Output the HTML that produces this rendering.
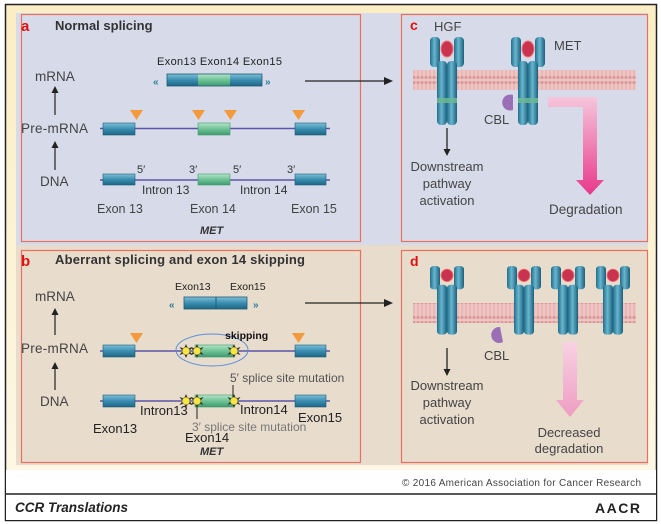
<!DOCTYPE html>
<html><head><meta charset="utf-8"><style>
html,body{margin:0;padding:0;background:#fff;}
svg{display:block;font-family:"Liberation Sans",sans-serif;}
</style></head><body>
<svg width="661" height="524" viewBox="0 0 661 524" xmlns="http://www.w3.org/2000/svg">
<defs>
<linearGradient id="yel" x1="0" y1="0" x2="0" y2="1"><stop offset="0" stop-color="#fbeec4"/><stop offset="1" stop-color="#fdf8e8"/></linearGradient>
<linearGradient id="bx" x1="0" y1="0" x2="0" y2="1"><stop offset="0" stop-color="#7fc0d6"/><stop offset="0.5" stop-color="#3a8db0"/><stop offset="1" stop-color="#1f6584"/></linearGradient>
<linearGradient id="gx" x1="0" y1="0" x2="0" y2="1"><stop offset="0" stop-color="#b5e4c8"/><stop offset="0.5" stop-color="#6fc296"/><stop offset="1" stop-color="#3e9a6e"/></linearGradient>
<linearGradient id="cyl" x1="0" y1="0" x2="1" y2="0"><stop offset="0" stop-color="#1f6e8c"/><stop offset="0.45" stop-color="#6ab6cf"/><stop offset="1" stop-color="#1b5f7c"/></linearGradient>
<linearGradient id="pk" x1="0" y1="0" x2="0" y2="1"><stop offset="0" stop-color="#f6c6dc"/><stop offset="1" stop-color="#e8388a"/></linearGradient>
<linearGradient id="pk2" x1="0" y1="0" x2="0" y2="1"><stop offset="0" stop-color="#f8d3e2"/><stop offset="1" stop-color="#ee9cc2"/></linearGradient>
<pattern id="mem" width="4" height="20" patternUnits="userSpaceOnUse">
<rect width="4" height="20" fill="#efc6c4"/>
<circle cx="2" cy="2.5" r="1.6" fill="#d99a9a"/><circle cx="2" cy="17.5" r="1.6" fill="#d99a9a"/>
<line x1="2" y1="4" x2="2" y2="16" stroke="#dca3a3" stroke-width="0.8"/>
</pattern>
<g id="rec">
<rect x="-17" y="0" width="10" height="30" rx="4" fill="url(#cyl)"/>
<rect x="7" y="0" width="10" height="30" rx="4" fill="url(#cyl)"/>
<ellipse cx="0" cy="12" rx="6" ry="8" fill="#c9334f" stroke="#e77" stroke-width="1"/>
<rect x="-10" y="24" width="10" height="64" rx="4" fill="url(#cyl)"/>
<rect x="0" y="24" width="10" height="64" rx="4" fill="url(#cyl)"/>
</g>
<g id="star"><polygon points="0,-7 2,-2.5 6.5,-4 3.5,0 6.5,4 2,2.5 0,7 -2,2.5 -6.5,4 -3.5,0 -6.5,-4 -2,-2.5" fill="#333"/><circle r="3.8" fill="#f4e64a" stroke="#8a7a10" stroke-width="0.6"/></g>
</defs>
<rect x="5.5" y="4.5" width="651" height="516" fill="url(#yel)" stroke="#222" stroke-width="1.5"/>
<rect x="16" y="13" width="632" height="232" fill="#d7dbe9"/>
<rect x="16" y="245" width="632" height="220" fill="#e8dccd"/>
<rect x="6" y="470" width="650" height="50" fill="#fff"/>
<line x1="5" y1="494" x2="657" y2="494" stroke="#222" stroke-width="1.5"/>
<rect x="21.5" y="14.5" width="339" height="227" fill="none" stroke="#e9705c" stroke-width="1.2"/>
<rect x="401.5" y="14.5" width="246" height="227" fill="none" stroke="#e9705c" stroke-width="1.2"/>
<rect x="21.5" y="250.5" width="339" height="212" fill="none" stroke="#e9705c" stroke-width="1.2"/>
<rect x="401.5" y="250.5" width="246" height="212" fill="none" stroke="#e9705c" stroke-width="1.2"/>

<!-- panel a -->
<text x="21" y="31" font-size="15" font-weight="bold" fill="#e01010">a</text>
<text x="55" y="30" font-size="13" font-weight="bold" fill="#333">Normal splicing</text>
<text x="157" y="65" font-size="11" fill="#222" textLength="125">Exon13 Exon14 Exon15</text>
<rect x="167" y="74" width="31" height="12" fill="url(#bx)"/><rect x="198" y="74" width="32" height="12" fill="url(#gx)"/><rect x="230" y="74" width="32" height="12" fill="url(#bx)"/>
<rect x="167" y="74" width="95" height="12" fill="none" stroke="#1d5d78" stroke-width="0.8"/>
<text x="153" y="85" font-size="10" font-weight="bold" fill="#2b7d9c">«</text>
<text x="265" y="85" font-size="10" font-weight="bold" fill="#2b7d9c">»</text>
<line x1="305" y1="81" x2="385" y2="81" stroke="#222" stroke-width="1.3"/><polygon points="393,81 384,77 384,85" fill="#222"/>
<g font-size="13.5" fill="#444">
<text x="35" y="81">mRNA</text><text x="21" y="133" textLength="67">Pre-mRNA</text><text x="40" y="186">DNA</text>
</g>
<g stroke="#222" stroke-width="1.2"><line x1="55" y1="115" x2="55" y2="90"/><line x1="55" y1="170" x2="55" y2="145"/><line x1="55" y1="335" x2="55" y2="312"/><line x1="55" y1="390" x2="55" y2="366"/></g>
<g fill="#222"><polygon points="55,86 51.5,93 58.5,93"/><polygon points="55,141 51.5,148 58.5,148"/><polygon points="55,308 51.5,315 58.5,315"/><polygon points="55,362 51.5,369 58.5,369"/></g>
<line x1="100" y1="128.5" x2="330" y2="128.5" stroke="#5b55a8" stroke-width="1.5"/>
<rect x="103" y="123" width="32" height="12" fill="url(#bx)" stroke="#1d5d78" stroke-width="0.6"/>
<rect x="198" y="123" width="32" height="12" fill="url(#gx)" stroke="#3e9a6e" stroke-width="0.6"/>
<rect x="295" y="123" width="31" height="12" fill="url(#bx)" stroke="#1d5d78" stroke-width="0.6"/>
<g fill="#f49a3c"><polygon points="130,110 143,110 136.5,120"/><polygon points="192,110 205,110 198.5,120"/><polygon points="224,110 237,110 230.5,120"/><polygon points="292,110 305,110 298.5,120"/></g>
<line x1="100" y1="180" x2="330" y2="180" stroke="#5b55a8" stroke-width="1.5"/>
<rect x="103" y="174" width="32" height="11" fill="url(#bx)" stroke="#1d5d78" stroke-width="0.6"/>
<rect x="198" y="174" width="32" height="11" fill="url(#gx)" stroke="#3e9a6e" stroke-width="0.6"/>
<rect x="295" y="174" width="31" height="11" fill="url(#bx)" stroke="#1d5d78" stroke-width="0.6"/>
<g font-size="11" fill="#333"><text x="137" y="173">5′</text><text x="189" y="173">3′</text><text x="233" y="173">5′</text><text x="287" y="173">3′</text></g>
<g font-size="12" fill="#333"><text x="142" y="194">Intron 13</text><text x="240" y="194">Intron 14</text></g>
<g font-size="12.5" fill="#444"><text x="97" y="213">Exon 13</text><text x="190" y="213">Exon 14</text><text x="291" y="213">Exon 15</text></g>
<text x="200" y="234" font-size="11" font-weight="bold" font-style="italic" fill="#333">MET</text>

<!-- panel c -->
<text x="410" y="30" font-size="14" font-weight="bold" fill="#e01010">c</text>
<text x="434" y="31" font-size="13" fill="#444">HGF</text>
<text x="554" y="50" font-size="13" fill="#444">MET</text>
<rect x="413" y="70" width="223" height="20" fill="url(#mem)"/>
<use href="#rec" transform="translate(447,37)"/>
<use href="#rec" transform="translate(528,37)"/>
<rect x="437" y="98" width="20" height="5" fill="#6db892" opacity="0.85"/>
<rect x="518" y="98" width="20" height="5" fill="#6db892" opacity="0.85"/>
<path d="M513,95 A8,8 0 1,0 513,110 Z" fill="#9b6fb5"/>
<text x="484" y="124" font-size="13" fill="#444">CBL</text>
<line x1="447" y1="128" x2="447" y2="150" stroke="#222" stroke-width="1.3"/><polygon points="447,156 443.5,149 450.5,149" fill="#222"/>
<g font-size="13" fill="#444" text-anchor="middle"><text x="447" y="171">Downstream</text><text x="447" y="188">pathway</text><text x="447" y="205">activation</text></g>
<path d="M548,97 L597,97 L597,180 L604,180 L590,195 L576,180 L583,180 L583,107 L548,107 Z" fill="url(#pk)"/>
<text x="549" y="214" font-size="13.5" fill="#444">Degradation</text>

<!-- panel b -->
<text x="21" y="266" font-size="15" font-weight="bold" fill="#e01010">b</text>
<text x="55" y="264" font-size="13" font-weight="bold" fill="#333" textLength="250">Aberrant splicing and exon 14 skipping</text>
<text x="175" y="290" font-size="10.5" fill="#222">Exon13</text><text x="230" y="290" font-size="10.5" fill="#222">Exon15</text>
<rect x="184" y="297" width="63" height="12" fill="url(#bx)" stroke="#1d5d78" stroke-width="0.8"/><line x1="216" y1="297" x2="216" y2="309" stroke="#1d5d78"/>
<text x="169" y="308" font-size="10" font-weight="bold" fill="#2b7d9c">«</text>
<text x="253" y="308" font-size="10" font-weight="bold" fill="#2b7d9c">»</text>
<line x1="305" y1="303" x2="385" y2="303" stroke="#222" stroke-width="1.3"/><polygon points="393,303 384,299 384,307" fill="#222"/>
<g font-size="13.5" fill="#444"><text x="35" y="301">mRNA</text><text x="21" y="353" textLength="67">Pre-mRNA</text><text x="40" y="406">DNA</text></g>
<line x1="100" y1="351" x2="330" y2="351" stroke="#5b55a8" stroke-width="1.5"/>
<rect x="103" y="345" width="32" height="12" fill="url(#bx)" stroke="#1d5d78" stroke-width="0.6"/>
<rect x="195" y="345" width="38" height="12" fill="url(#gx)" stroke="#3e9a6e" stroke-width="0.6"/>
<rect x="295" y="345" width="31" height="12" fill="url(#bx)" stroke="#1d5d78" stroke-width="0.6"/>
<ellipse cx="212" cy="350" rx="36" ry="16" fill="none" stroke="#5b8fd8" stroke-width="1"/>
<use href="#star" x="186" y="351"/><use href="#star" x="197" y="351"/><use href="#star" x="234" y="351"/>
<text x="225" y="339" font-size="10.5" font-weight="bold" fill="#111">skipping</text>
<g fill="#f49a3c"><polygon points="130,333 143,333 136.5,343"/><polygon points="292,333 305,333 298.5,343"/></g>
<line x1="100" y1="401" x2="330" y2="401" stroke="#5b55a8" stroke-width="1.5"/>
<rect x="103" y="395" width="32" height="12" fill="url(#bx)" stroke="#1d5d78" stroke-width="0.6"/>
<rect x="195" y="395" width="38" height="12" fill="url(#gx)" stroke="#3e9a6e" stroke-width="0.6"/>
<rect x="295" y="395" width="31" height="12" fill="url(#bx)" stroke="#1d5d78" stroke-width="0.6"/>
<line x1="233" y1="385" x2="233" y2="400" stroke="#222"/><line x1="197" y1="403" x2="197" y2="419" stroke="#222"/>
<use href="#star" x="186" y="401"/><use href="#star" x="197" y="401"/><use href="#star" x="234" y="401"/>
<text x="230" y="382" font-size="12" fill="#555">5′ splice site mutation</text>
<text x="192" y="431" font-size="12" fill="#777">3′ splice site mutation</text>
<g font-size="13" fill="#222"><text x="140" y="415">Intron13</text><text x="240" y="414">Intron14</text><text x="298" y="422">Exon15</text><text x="93" y="433">Exon13</text><text x="185" y="442">Exon14</text></g>
<text x="200" y="455" font-size="11" font-weight="bold" font-style="italic" fill="#333">MET</text>

<!-- panel d -->
<text x="410" y="266" font-size="14" font-weight="bold" fill="#e01010">d</text>
<rect x="413" y="303" width="223" height="20" fill="url(#mem)"/>
<use href="#rec" transform="translate(447,266) scale(1,0.78)"/>
<use href="#rec" transform="translate(524,266) scale(1,0.78)"/>
<use href="#rec" transform="translate(568,266) scale(1,0.78)"/>
<use href="#rec" transform="translate(613,266) scale(1,0.78)"/>
<path d="M500,327 A8,8 0 1,0 503,342 Z" fill="#9b6fb5"/>
<text x="484" y="360" font-size="13" fill="#444">CBL</text>
<line x1="447" y1="348" x2="447" y2="370" stroke="#222" stroke-width="1.3"/><polygon points="447,376 443.5,369 450.5,369" fill="#222"/>
<g font-size="13" fill="#444" text-anchor="middle"><text x="447" y="390">Downstream</text><text x="447" y="407">pathway</text><text x="447" y="424">activation</text></g>
<path d="M563,342 L577,342 L577,400 L584,400 L570,417 L556,400 L563,400 Z" fill="url(#pk2)"/>
<g font-size="13" fill="#444" text-anchor="middle"><text x="569" y="437">Decreased</text><text x="569" y="453">degradation</text></g>

<!-- footer -->
<text x="402" y="486" font-size="10" fill="#444" textLength="239">© 2016 American Association for Cancer Research</text>
<text x="15" y="512" font-size="13.5" font-weight="bold" font-style="italic" fill="#222">CCR Translations</text>
<text x="595" y="513" font-size="14" font-weight="bold" fill="#222" textLength="45">AACR</text>
</svg>
</body></html>
